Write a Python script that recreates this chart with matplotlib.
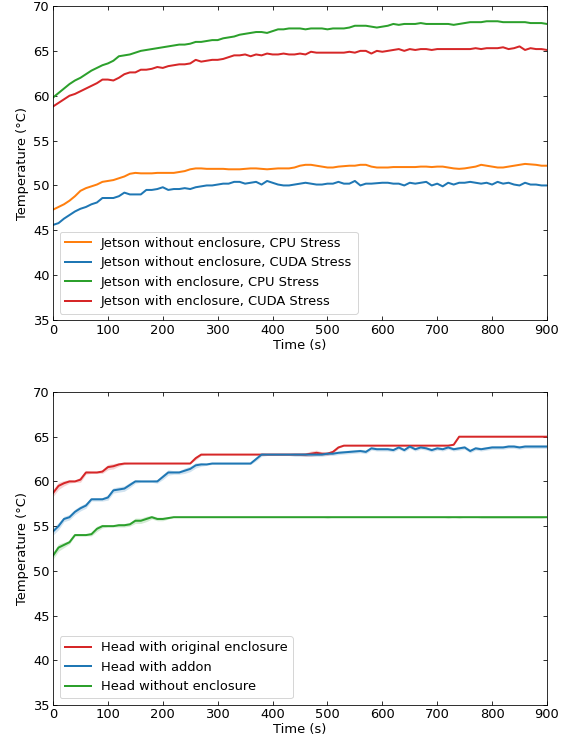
import numpy as np
import matplotlib
matplotlib.use("Agg")
import matplotlib.pyplot as plt

plt.rcParams["font.size"] = 13

# sample times (s), one reading every 10 s
time = list(range(0, 901, 10))

# ---- top panel: Jetson ----
jetson_noenc_cpu = [
    47.3, 47.6, 47.9, 48.3, 48.8, 49.4, 49.7, 49.9, 50.1, 50.4,
    50.5, 50.6, 50.8, 51.0, 51.3, 51.4, 51.35, 51.35, 51.35, 51.4,
    51.4, 51.4, 51.4, 51.5, 51.6, 51.8, 51.9, 51.9, 51.85, 51.85,
    51.85, 51.85, 51.8, 51.8, 51.8, 51.85, 51.9, 51.9, 51.85, 51.8,
    51.85, 51.9, 51.9, 51.9, 52.0, 52.2, 52.3, 52.3, 52.2, 52.1,
    52.0, 52.0, 52.1, 52.15, 52.2, 52.2, 52.3, 52.3, 52.1, 52.0,
    52.0, 52.0, 52.05, 52.05, 52.05, 52.05, 52.05, 52.1, 52.1, 52.05,
    52.1, 52.1, 52.0, 51.9, 51.85, 51.9, 52.0, 52.1, 52.3, 52.2,
    52.1, 52.0, 52.0, 52.1, 52.2, 52.3, 52.4, 52.35, 52.3, 52.2, 52.2]
jetson_noenc_cuda = [
    45.6, 45.8, 46.3, 46.7, 47.1, 47.4, 47.6, 47.9, 48.1, 48.6,
    48.6, 48.6, 48.8, 49.2, 49.0, 49.0, 49.0, 49.5, 49.5, 49.6,
    49.8, 49.5, 49.6, 49.6, 49.7, 49.6, 49.8, 49.9, 50.0, 50.0,
    50.1, 50.2, 50.2, 50.4, 50.4, 50.2, 50.3, 50.4, 50.1, 50.5,
    50.3, 50.1, 50.0, 50.0, 50.1, 50.2, 50.3, 50.2, 50.1, 50.1,
    50.2, 50.2, 50.4, 50.2, 50.2, 50.5, 50.0, 50.2, 50.2, 50.25,
    50.3, 50.3, 50.2, 50.2, 50.0, 50.3, 50.2, 50.3, 50.4, 50.0,
    50.2, 49.9, 50.3, 50.1, 50.3, 50.3, 50.4, 50.3, 50.2, 50.3,
    50.1, 50.4, 50.2, 50.3, 50.1, 50.0, 50.3, 50.1, 50.1, 50.0, 50.0]
jetson_enc_cpu = [
    59.8, 60.3, 60.8, 61.3, 61.7, 62.0, 62.4, 62.8, 63.1, 63.4,
    63.6, 63.9, 64.4, 64.5, 64.6, 64.8, 65.0, 65.1, 65.2, 65.3,
    65.4, 65.5, 65.6, 65.7, 65.7, 65.8, 66.0, 66.0, 66.1, 66.2,
    66.2, 66.4, 66.5, 66.6, 66.8, 66.9, 67.0, 67.1, 67.1, 67.0,
    67.2, 67.4, 67.4, 67.5, 67.5, 67.5, 67.4, 67.5, 67.5, 67.5,
    67.4, 67.5, 67.5, 67.5, 67.6, 67.8, 67.8, 67.8, 67.7, 67.6,
    67.7, 67.8, 68.0, 67.9, 68.0, 68.0, 68.0, 68.1, 68.0, 68.0,
    68.0, 68.0, 68.0, 67.9, 68.0, 68.1, 68.2, 68.2, 68.2, 68.3,
    68.3, 68.3, 68.2, 68.2, 68.2, 68.2, 68.2, 68.1, 68.1, 68.1, 68.0]
jetson_enc_cuda = [
    58.8, 59.2, 59.6, 60.0, 60.2, 60.5, 60.8, 61.1, 61.4, 61.8,
    61.8, 61.7, 62.0, 62.4, 62.6, 62.6, 62.9, 62.9, 63.0, 63.2,
    63.1, 63.3, 63.4, 63.5, 63.5, 63.6, 64.0, 63.8, 63.9, 64.0,
    64.0, 64.1, 64.3, 64.5, 64.5, 64.6, 64.4, 64.6, 64.5, 64.7,
    64.6, 64.6, 64.7, 64.6, 64.6, 64.7, 64.6, 64.9, 64.8, 64.8,
    64.8, 64.8, 64.8, 64.8, 64.9, 64.8, 65.0, 65.0, 64.7, 65.0,
    64.9, 65.0, 65.1, 65.2, 65.0, 65.2, 65.1, 65.2, 65.2, 65.1,
    65.2, 65.2, 65.2, 65.2, 65.2, 65.2, 65.2, 65.3, 65.2, 65.3,
    65.3, 65.3, 65.4, 65.2, 65.3, 65.5, 65.1, 65.3, 65.2, 65.2, 65.1]

# ---- bottom panel: head ----
head_original = [
    58.7, 59.5, 59.8, 60.0, 60.0, 60.2, 61.0, 61.0, 61.0, 61.1,
    61.6, 61.7, 61.9, 62.0, 62.0, 62.0, 62.0, 62.0, 62.0, 62.0,
    62.0, 62.0, 62.0, 62.0, 62.0, 62.0, 62.6, 63.0, 63.0, 63.0,
    63.0, 63.0, 63.0, 63.0, 63.0, 63.0, 63.0, 63.0, 63.0, 63.0,
    63.0, 63.0, 63.0, 63.0, 63.0, 63.0, 63.0, 63.1, 63.2, 63.1,
    63.1, 63.3, 63.8, 64.0, 64.0, 64.0, 64.0, 64.0, 64.0, 64.0,
    64.0, 64.0, 64.0, 64.0, 64.0, 64.0, 64.0, 64.0, 64.0, 64.0,
    64.0, 64.0, 64.0, 64.1, 65.0, 65.0, 65.0, 65.0, 65.0, 65.0,
    65.0, 65.0, 65.0, 65.0, 65.0, 65.0, 65.0, 65.0, 65.0, 65.0, 65.0]
head_addon = [
    54.4, 55.0, 55.8, 56.0, 56.6, 57.0, 57.3, 58.0, 58.0, 58.0,
    58.2, 59.0, 59.1, 59.2, 59.6, 60.0, 60.0, 60.0, 60.0, 60.0,
    60.5, 61.0, 61.0, 61.0, 61.2, 61.4, 61.8, 61.9, 61.9, 62.0,
    62.0, 62.0, 62.0, 62.0, 62.0, 62.0, 62.0, 62.5, 63.0, 63.0,
    63.0, 63.0, 63.0, 63.0, 63.0, 63.0, 63.0, 63.0, 63.0, 63.0,
    63.1, 63.1, 63.2, 63.25, 63.3, 63.35, 63.4, 63.3, 63.7, 63.6,
    63.6, 63.6, 63.5, 63.8, 63.5, 63.9, 63.6, 63.8, 63.7, 63.5,
    63.7, 63.6, 63.8, 63.6, 63.7, 63.8, 63.4, 63.7, 63.6, 63.7,
    63.8, 63.8, 63.8, 63.9, 63.9, 63.8, 63.9, 63.9, 63.9, 63.9, 63.9]
head_noenc = [
    51.7, 52.6, 52.9, 53.2, 54.0, 54.0, 54.0, 54.1, 54.7, 55.0,
    55.0, 55.0, 55.1, 55.1, 55.2, 55.6, 55.6, 55.8, 56.0, 55.8,
    55.8, 55.9, 56.0, 56.0, 56.0, 56.0, 56.0, 56.0, 56.0, 56.0,
    56.0, 56.0, 56.0, 56.0, 56.0, 56.0, 56.0, 56.0, 56.0, 56.0,
    56.0, 56.0, 56.0, 56.0, 56.0, 56.0, 56.0, 56.0, 56.0, 56.0,
    56.0, 56.0, 56.0, 56.0, 56.0, 56.0, 56.0, 56.0, 56.0, 56.0,
    56.0, 56.0, 56.0, 56.0, 56.0, 56.0, 56.0, 56.0, 56.0, 56.0,
    56.0, 56.0, 56.0, 56.0, 56.0, 56.0, 56.0, 56.0, 56.0, 56.0,
    56.0, 56.0, 56.0, 56.0, 56.0, 56.0, 56.0, 56.0, 56.0, 56.0, 56.0]

# spread between runs (shaded band), bottom panel
head_original_sd = [
    0.4, 0.4, 0.3, 0.2, 0.1, 0.3, 0.2, 0.1, 0.1, 0.2,
    0.3, 0.3, 0.2, 0.1, 0.0, 0.0, 0.0, 0.0, 0.0, 0.0,
    0.0, 0.0, 0.0, 0.0, 0.0, 0.0, 0.2, 0.1, 0.0, 0.0,
    0.0, 0.0, 0.0, 0.0, 0.0, 0.0, 0.0, 0.0, 0.0, 0.0,
    0.0, 0.0, 0.0, 0.0, 0.0, 0.1, 0.2, 0.3, 0.3, 0.2,
    0.2, 0.2, 0.1, 0.0, 0.0, 0.0, 0.0, 0.0, 0.0, 0.0,
    0.0, 0.0, 0.0, 0.0, 0.0, 0.0, 0.0, 0.0, 0.0, 0.0,
    0.0, 0.0, 0.0, 0.0, 0.0, 0.0, 0.0, 0.0, 0.0, 0.0,
    0.0, 0.0, 0.0, 0.0, 0.0, 0.0, 0.0, 0.0, 0.0, 0.0, 0.0]
head_addon_sd = [
    0.4, 0.4, 0.3, 0.3, 0.3, 0.3, 0.3, 0.2, 0.2, 0.2,
    0.3, 0.3, 0.3, 0.3, 0.3, 0.2, 0.1, 0.1, 0.1, 0.2,
    0.3, 0.3, 0.2, 0.2, 0.3, 0.3, 0.3, 0.2, 0.1, 0.1,
    0.1, 0.1, 0.1, 0.1, 0.1, 0.1, 0.1, 0.2, 0.2, 0.1,
    0.1, 0.1, 0.1, 0.1, 0.2, 0.2, 0.2, 0.2, 0.2, 0.2,
    0.2, 0.2, 0.2, 0.2, 0.2, 0.2, 0.2, 0.2, 0.2, 0.2,
    0.2, 0.2, 0.2, 0.2, 0.2, 0.2, 0.2, 0.2, 0.2, 0.2,
    0.2, 0.2, 0.2, 0.2, 0.2, 0.2, 0.2, 0.2, 0.2, 0.2,
    0.2, 0.2, 0.2, 0.2, 0.2, 0.2, 0.2, 0.2, 0.2, 0.2, 0.2]
head_noenc_sd = [
    0.4, 0.4, 0.3, 0.2, 0.1, 0.1, 0.1, 0.2, 0.3, 0.2,
    0.1, 0.1, 0.2, 0.2, 0.2, 0.3, 0.3, 0.3, 0.2, 0.2,
    0.2, 0.1, 0.0, 0.0, 0.0, 0.0, 0.0, 0.0, 0.0, 0.0,
    0.0, 0.0, 0.0, 0.0, 0.0, 0.0, 0.0, 0.0, 0.0, 0.0,
    0.0, 0.0, 0.0, 0.0, 0.0, 0.0, 0.0, 0.0, 0.0, 0.0,
    0.1, 0.0, 0.0, 0.0, 0.0, 0.0, 0.0, 0.0, 0.0, 0.0,
    0.0, 0.0, 0.0, 0.0, 0.0, 0.0, 0.0, 0.0, 0.0, 0.0,
    0.0, 0.0, 0.1, 0.0, 0.1, 0.0, 0.0, 0.0, 0.1, 0.1,
    0.1, 0.1, 0.1, 0.1, 0.1, 0.1, 0.1, 0.1, 0.1, 0.1, 0.0]


def style(ax):
    ax.set_xlim(0, 900)
    ax.set_ylim(35, 70)
    ax.set_xticks(range(0, 901, 100))
    ax.set_yticks(range(35, 71, 5))
    ax.tick_params(direction="in", top=True, right=True, length=4)
    ax.set_xlabel("Time (s)", labelpad=2)
    ax.set_ylabel("Temperature (°C)")


def curve(ax, y, sd, color, label):
    y = np.array(y)
    ax.plot(time, y, color=color, lw=2, label=label)
    if sd is not None:
        sd = np.array(sd)
        ax.fill_between(time, y - sd, y + sd, color=color, alpha=0.2, lw=0)


fig = plt.figure(figsize=(567 / 72, 742 / 72), dpi=72)
ax1 = fig.add_axes([0.0935, 0.5687, 0.8712, 0.4232])
ax2 = fig.add_axes([0.0935, 0.0499, 0.8712, 0.4218])

curve(ax1, jetson_noenc_cpu, None, "tab:orange", "Jetson without enclosure, CPU Stress")
curve(ax1, jetson_noenc_cuda, None, "tab:blue", "Jetson without enclosure, CUDA Stress")
curve(ax1, jetson_enc_cpu, None, "tab:green", "Jetson with enclosure, CPU Stress")
curve(ax1, jetson_enc_cuda, None, "tab:red", "Jetson with enclosure, CUDA Stress")
style(ax1)
ax1.legend(loc="lower left")

curve(ax2, head_original, head_original_sd, "tab:red", "Head with original enclosure")
curve(ax2, head_addon, head_addon_sd, "tab:blue", "Head with addon")
curve(ax2, head_noenc, head_noenc_sd, "tab:green", "Head without enclosure")
style(ax2)
ax2.legend(loc="lower left")

fig.savefig("out.png", dpi=72)
